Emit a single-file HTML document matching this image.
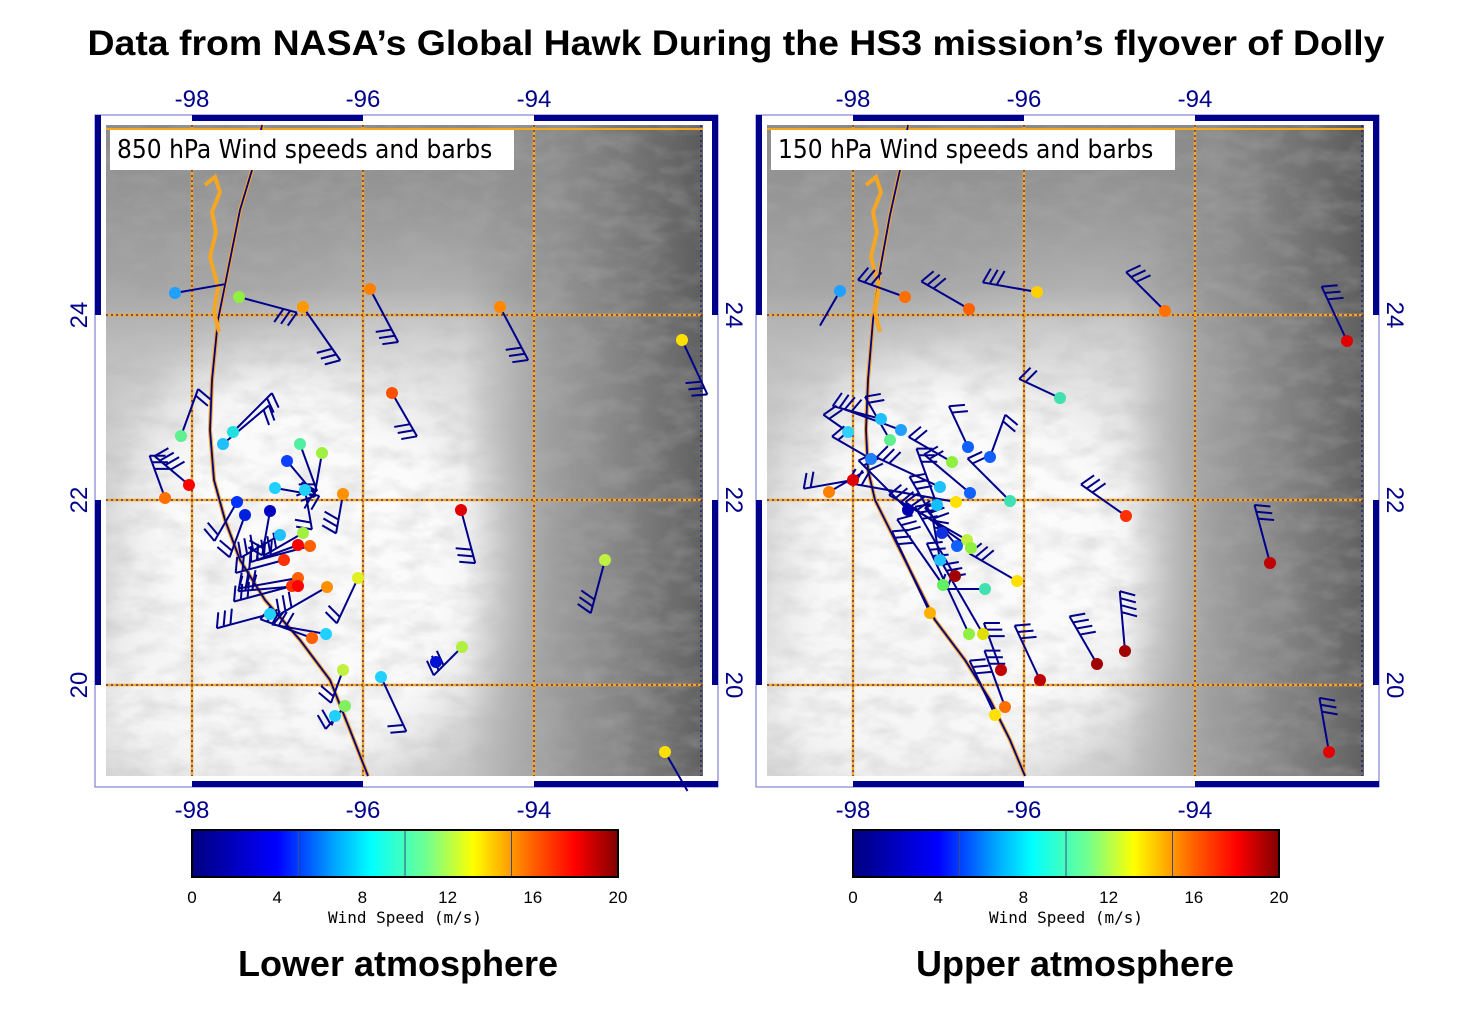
<!DOCTYPE html>
<html><head><meta charset="utf-8"><style>
html,body{margin:0;padding:0;background:#fff;width:1472px;height:1018px;overflow:hidden}
svg{display:block}
</style></head><body>
<svg id="s" width="1472" height="1018" xmlns="http://www.w3.org/2000/svg" font-family="Liberation Sans, sans-serif">
<defs>
<filter id="tex" x="0" y="0" width="100%" height="100%">
<feTurbulence type="fractalNoise" baseFrequency="0.03 0.06" numOctaves="3" seed="4"/>
<feColorMatrix type="matrix" values="0 0 0 0 0.45 0 0 0 0 0.45 0 0 0 0 0.45 0 0 0 1.3 -0.5"/>
</filter>
<filter id="blur" x="-50%" y="-50%" width="200%" height="200%"><feGaussianBlur stdDeviation="35"/></filter>
<linearGradient id="jet" x1="0" x2="1">
<stop offset="0" stop-color="#00007f"/><stop offset="0.2" stop-color="#0000ff"/><stop offset="0.33" stop-color="#00a0ff"/><stop offset="0.42" stop-color="#00ffff"/><stop offset="0.55" stop-color="#70ff90"/><stop offset="0.66" stop-color="#ffff00"/><stop offset="0.8" stop-color="#ff6000"/><stop offset="0.9" stop-color="#ff0000"/><stop offset="1" stop-color="#800000"/>
</linearGradient>
<linearGradient id="topband" x1="0" y1="0" x2="0" y2="1"><stop offset="0" stop-color="#7a7a7a" stop-opacity="0.8"/><stop offset="0.25" stop-color="#909090" stop-opacity="0.6"/><stop offset="0.42" stop-color="#bdbdbd" stop-opacity="0"/></linearGradient>
<linearGradient id="rightband" x1="0" y1="0" x2="1" y2="0"><stop offset="0" stop-color="#777" stop-opacity="0"/><stop offset="0.6" stop-color="#888" stop-opacity="0"/><stop offset="0.75" stop-color="#8c8c8c" stop-opacity="0.7"/><stop offset="1" stop-color="#555" stop-opacity="0.9"/></linearGradient>
</defs>
<text x="736" y="55" text-anchor="middle" font-size="35" font-weight="bold" textLength="1297" lengthAdjust="spacingAndGlyphs">Data from NASA’s Global Hawk During the HS3 mission’s flyover of Dolly</text>
<g id="P0"></g><g id="P1"></g>
<text x="398" y="976" text-anchor="middle" font-size="36" font-weight="bold">Lower atmosphere</text>
<text x="1075" y="976" text-anchor="middle" font-size="36" font-weight="bold">Upper atmosphere</text>
</svg>
<script>
const NS="http://www.w3.org/2000/svg";
function el(p,t,a,txt){const e=document.createElementNS(NS,t);for(const k in a)e.setAttribute(k,a[k]);if(txt!==undefined)e.textContent=txt;p.appendChild(e);return e;}
const NAVY="#00008b";
let cid=0;
function panel(g,dx,title,dots,coast,leftLabels){
 const x0=95+dx,x1=718+dx,y0=115,y1=787, ix0=106+dx, ix1=703+dx, iy0=125, iy1=776;
 const gx=[192+dx,363+dx,534+dx], gy=[315,500,685];
 el(g,'rect',{x:x0,y:y0,width:x1-x0,height:y1-y0,fill:'#fff',stroke:'#6a6acd','stroke-width':1});
 const cp='cp'+(cid++);
 const defs=el(g,'defs',{}); const c=el(defs,'clipPath',{id:cp}); el(c,'rect',{x:ix0,y:iy0,width:ix1-ix0,height:iy1-iy0});
 const im=el(g,'g',{'clip-path':`url(#${cp})`});
 el(im,'rect',{x:ix0,y:iy0,width:ix1-ix0,height:iy1-iy0,fill:'#c4c4c4'});
 el(im,'ellipse',{cx:310+dx,cy:560,rx:200,ry:230,fill:'#fbfbfb',filter:'url(#blur)'});
 el(im,'ellipse',{cx:200+dx,cy:700,rx:120,ry:100,fill:'#f6f6f6',filter:'url(#blur)'});
 el(im,'ellipse',{cx:420+dx,cy:330,rx:110,ry:80,fill:'#e6e6e6',filter:'url(#blur)'});
 el(im,'rect',{x:ix0,y:iy0,width:ix1-ix0,height:iy1-iy0,fill:'url(#topband)'});
 el(im,'rect',{x:ix0,y:iy0,width:ix1-ix0,height:iy1-iy0,fill:'url(#rightband)'});
 el(im,'rect',{x:ix0,y:iy0,width:ix1-ix0,height:iy1-iy0,filter:'url(#tex)',opacity:0.5});
 // grid
 for(const x of gx){el(g,'line',{x1:x,y1:iy0,x2:x,y2:iy1,stroke:'#f5a623','stroke-width':2.5});el(g,'line',{x1:x,y1:iy0,x2:x,y2:iy1,stroke:NAVY,'stroke-width':1,'stroke-dasharray':'2 3'});}
 for(const y of gy){el(g,'line',{x1:ix0,y1:y,x2:ix1,y2:y,stroke:'#f5a623','stroke-width':2.5});el(g,'line',{x1:ix0,y1:y,x2:ix1,y2:y,stroke:NAVY,'stroke-width':1,'stroke-dasharray':'2 3'});}
 el(g,'line',{x1:ix0,y1:iy0+4,x2:ix1,y2:iy0+4,stroke:'#f5a623','stroke-width':2});
 el(g,'line',{x1:ix1-2,y1:iy0,x2:ix1-2,y2:iy1,stroke:NAVY,'stroke-width':1,'stroke-dasharray':'2 3'});
 const T=6;
 el(g,'rect',{x:gx[0],y:y0,width:gx[1]-gx[0],height:T,fill:NAVY});
 el(g,'rect',{x:gx[2],y:y0,width:x1-gx[2],height:T,fill:NAVY});
 el(g,'rect',{x:gx[0],y:y1-T,width:gx[1]-gx[0],height:T,fill:NAVY});
 el(g,'rect',{x:gx[2],y:y1-T,width:x1-gx[2],height:T,fill:NAVY});
 el(g,'rect',{x:x0,y:y0,width:T,height:gy[0]-y0,fill:NAVY});
 el(g,'rect',{x:x0,y:gy[1],width:T,height:gy[2]-gy[1],fill:NAVY});
 el(g,'rect',{x:x1-T,y:y0,width:T,height:gy[0]-y0,fill:NAVY});
 el(g,'rect',{x:x1-T,y:gy[1],width:T,height:gy[2]-gy[1],fill:NAVY});
 el(g,'path',{d:coast,fill:'none',stroke:'#f5a623','stroke-width':4});
 el(g,'path',{d:coast,fill:'none',stroke:NAVY,'stroke-width':1.8});
 el(g,'path',{d:`M${205+dx},185 l10,-8 l5,15 l-8,20 l4,20 l-6,25 l8,30 l-4,25 l5,20`,fill:'none',stroke:'#f5a623','stroke-width':4});
 const lab=['-98','-96','-94'];
 gx.forEach((x,i)=>{el(g,'text',{x:x,y:107,'text-anchor':'middle','font-size':24,fill:NAVY},lab[i]);el(g,'text',{x:x,y:818,'text-anchor':'middle','font-size':24,fill:NAVY},lab[i]);});
 const yl=['24','22','20'];
 gy.forEach((y,i)=>{if(leftLabels)el(g,'text',{transform:`translate(${x0-8},${y}) rotate(-90)`,'text-anchor':'middle','font-size':24,fill:NAVY},yl[i]);el(g,'text',{transform:`translate(${x1+8},${y}) rotate(90)`,'text-anchor':'middle','font-size':24,fill:NAVY},yl[i]);});
 for(const d of dots){
  const [x,y,c,ang,n,len]=d; const L=len||48; const a=ang*Math.PI/180;
  const tx=x+L*Math.cos(a), ty=y+L*Math.sin(a);
  el(g,'line',{x1:x,y1:y,x2:tx,y2:ty,stroke:NAVY,'stroke-width':2});
  const px=Math.cos(a+Math.PI/2+0.35)*16, py=Math.sin(a+Math.PI/2+0.35)*16;
  for(let i=0;i<n;i++){const bx=tx-Math.cos(a)*i*7, by=ty-Math.sin(a)*i*7; el(g,'line',{x1:bx,y1:by,x2:bx+px,y2:by+py,stroke:NAVY,'stroke-width':2});}
 }
 for(const d of dots){el(g,'circle',{cx:d[0],cy:d[1],r:6,fill:d[2]});}
 el(g,'rect',{x:110+dx,y:130,width:title[1],height:40,fill:'#fff'});
 el(g,'text',{x:117+dx,y:158,'font-size':26,fill:'#000','font-family':'DejaVu Sans Condensed, Liberation Sans Narrow, Liberation Sans, sans-serif'},title[0]);
 const cx=192+dx, cw=426;
 el(g,'rect',{x:cx,y:830,width:cw,height:47,fill:'url(#jet)',stroke:'#000','stroke-width':2});
 for(const f of [0.25,0.5,0.75]) el(g,'line',{x1:cx+cw*f,y1:831,x2:cx+cw*f,y2:876,stroke:'#3a4a8a','stroke-width':1});
 [0,4,8,12,16,20].forEach((v,i)=>el(g,'text',{x:cx+cw*i/5,y:903,'text-anchor':'middle','font-size':17},String(v)));
 el(g,'text',{x:cx+cw/2,y:923,'text-anchor':'middle','font-size':16,'font-family':'DejaVu Sans Mono, Liberation Mono, monospace'},'Wind Speed (m/s)');
}
const L0=[[175,293,'#1fa0ff',-10,0,50],[239,297,'#90f040',15,3,60],[303,307,'#ff9900',55,3,65],[370,289,'#ff8000',62,3,60],[500,307,'#ff8800',62,3,60],[682,340,'#ffe000',65,3,60],[392,393,'#ff5000',60,3,50],[181,436,'#60f090',-70,2,50],[233,432,'#20e0e0',-45,2,55],[223,444,'#20c0ff',-40,2,60],[300,444,'#50f0a0',70,2,50],[322,453,'#a0f040',100,2,45],[287,461,'#1040ff',50,2,45],[189,485,'#ff0000',-140,4,45],[165,498,'#ff7000',-110,3,45],[343,494,'#ff9000',100,3,40],[237,502,'#0030ff',120,2,45],[245,515,'#0020e0',110,2,45],[270,511,'#0000c0',100,2,45],[275,488,'#20d0ff',10,2,45],[305,490,'#20d0ff',80,2,40],[461,510,'#e00000',75,3,55],[303,533,'#a0f040',150,3,45],[280,535,'#20c0ff',150,3,45],[298,545,'#ff0000',160,3,50],[310,546,'#ff6000',165,3,55],[284,560,'#ff3000',165,3,50],[298,578,'#ff6000',170,3,60],[292,586,'#ff3000',165,3,60],[298,586,'#ff0000',175,3,60],[327,587,'#ff9000',150,3,55],[358,578,'#e0f020',115,2,50],[605,560,'#c0f040',105,3,55],[270,614,'#20d0ff',165,3,55],[312,638,'#ff6000',-160,3,55],[326,634,'#20d0ff',-170,3,55],[462,647,'#b0f040',135,3,40],[436,662,'#0010d0',0,0,1],[343,670,'#c0f040',110,2,35],[381,677,'#20d0ff',65,2,60],[345,706,'#80f060',130,2,30],[335,716,'#20d0ff',110,0,10],[665,752,'#ffe000',60,0,45]];
const L1=[[840,291,'#20a0ff',120,0,40],[905,297,'#ff7000',-160,3,50],[969,309,'#ff6000',-150,3,55],[1037,292,'#ffd000',-170,3,55],[1165,311,'#ff7000',-135,3,55],[1347,341,'#e00000',-115,3,60],[1060,398,'#40e0b0',-155,2,45],[881,419,'#20c0ff',-165,2,50],[901,430,'#20a0ff',-160,2,60],[848,432,'#30d0ff',-145,2,30],[968,447,'#1060ff',-115,2,45],[990,457,'#1060ff',-70,2,45],[871,459,'#2080ff',-150,2,45],[952,462,'#90f040',-150,2,50],[890,440,'#60f090',-120,2,50],[853,480,'#e00000',170,2,50],[829,492,'#ff8000',-30,0,40],[940,487,'#20c0ff',-155,3,70],[970,493,'#1060ff',-140,2,60],[1010,501,'#40e0b0',-135,2,60],[956,502,'#ffe000',-170,3,110],[908,510,'#0000b0',-135,3,70],[937,505,'#10c0ff',-110,3,60],[1126,516,'#ff3000',-145,3,55],[942,533,'#1030e0',-120,3,65],[967,540,'#c0f040',-150,3,90],[957,546,'#1060ff',-130,3,50],[971,548,'#90f040',-145,3,80],[940,560,'#20c0ff',-100,2,40],[1270,563,'#c00000',-105,3,60],[955,576,'#a00000',-120,3,80],[943,585,'#60f060',-125,3,80],[985,589,'#40e0b0',180,2,45],[1017,581,'#ffe000',-150,3,55],[930,613,'#ffb000',-115,3,90],[969,634,'#90f040',-115,3,100],[983,634,'#e0e000',-120,3,80],[1001,670,'#c00000',-110,3,50],[1040,680,'#c00000',-115,3,60],[1097,664,'#a00000',-120,4,55],[1125,651,'#a00000',-95,4,60],[1005,707,'#ff7000',-110,3,60],[995,715,'#ffe000',-115,3,60],[1329,752,'#e00000',-100,3,55]];
const c0="M262,125 L255,160 L240,210 L228,270 L218,320 L212,380 L210,430 L214,480 L225,520 L240,560 L265,600 L300,640 L330,680 L350,730 L368,776";
const c1="M908,125 L900,170 L890,215 L880,270 L873,320 L868,380 L866,430 L868,470 L875,500 L890,530 L910,570 L935,620 L965,660 L990,700 L1010,740 L1025,776";
panel(document.getElementById('P0'),0,['850 hPa Wind speeds and barbs',404],L0,c0,true);
panel(document.getElementById('P1'),661,['150 hPa Wind speeds and barbs',404],L1,c1,false);
</script>
</body></html>
